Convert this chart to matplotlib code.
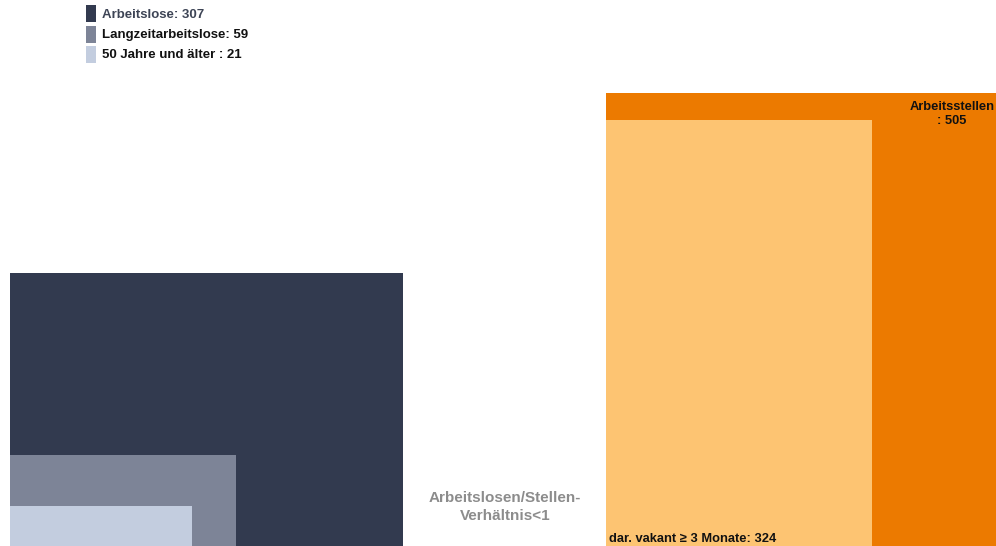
import matplotlib
matplotlib.use('Agg')
import matplotlib.pyplot as plt
from matplotlib.patches import Rectangle

plt.rcParams['font.family'] = ['Liberation Sans', 'DejaVu Sans']

# data
left_labels = ['Arbeitslose', 'Langzeitarbeitslose', '50 Jahre und älter ']
left_values = [307, 59, 21]
right_labels = ['Arbeitsstellen', 'dar. vakant ≥ 3 Monate']
right_values = [505, 324]
ratio_label = 'Arbeitslosen/Stellen-\nVerhältnis<1'

left_colors = ['#323a4f', '#7d8497', '#c3cddf']
right_colors = ['#ec7a00', '#fdc472']

# layout (pixel space), rect height = value * area_per_unit / width
area_per_unit = 350
left_x0, right_x0, base = 10, 606, 546
left_widths = [393, 226, 182]
right_widths = [390, 266]

fig = plt.figure(figsize=(9.96, 5.46), dpi=100)
ax = fig.add_axes([0, 0, 1, 1])
ax.set_xlim(0, 996)
ax.set_ylim(546, 0)
ax.axis('off')

for v, w, c in zip(left_values, left_widths, left_colors):
    h = v * area_per_unit / w
    ax.add_patch(Rectangle((left_x0, base - h), w, h, color=c, lw=0))

for v, w, c in zip(right_values, right_widths, right_colors):
    h = v * area_per_unit / w
    ax.add_patch(Rectangle((right_x0, base - h), w, h, color=c, lw=0))

# labels
h0 = right_values[0] * area_per_unit / right_widths[0]
ax.text(952, base - h0 + 8, f'{right_labels[0]}\n: {right_values[0]}', ha='center', va='top',
        fontsize=9.3, fontweight='bold', color='#111111', linespacing=1.2)
ax.text(right_x0 + 3, base - 1, f'{right_labels[1]}: {right_values[1]}', ha='left', va='bottom',
        fontsize=9.3, fontweight='bold', color='#111111')
ax.text(505, 507, ratio_label, ha='center', va='center', fontsize=11, fontweight='bold',
        color='#8c8c8c', linespacing=1.45)

# legend
for i, (lab, v, c) in enumerate(zip(left_labels, left_values, left_colors)):
    y = 5 + i * 20.5
    ax.add_patch(Rectangle((86, y), 10, 17, color=c, lw=0))
    ax.text(102, y + 9.5, f'{lab}: {v}', ha='left', va='center', fontsize=9.5, fontweight='bold',
            color='#3d4455' if i == 0 else '#111111')

fig.savefig('out.png', dpi=100)
